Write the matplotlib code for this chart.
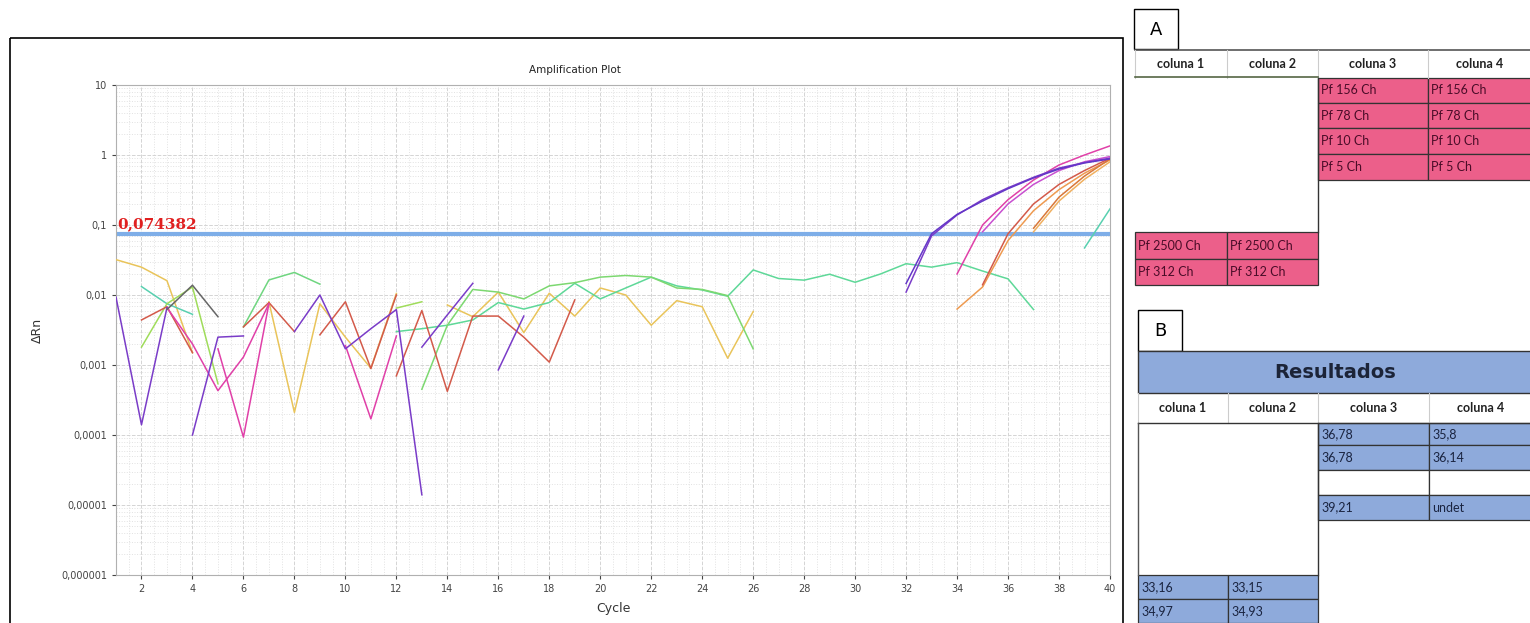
import numpy as np
import matplotlib
matplotlib.use("Agg")
import matplotlib.pyplot as plt
from matplotlib.patches import Rectangle
from matplotlib.ticker import FixedLocator, MultipleLocator, LogLocator, NullFormatter

# ---- amplification traces: (first cycle, delta-Rn values per cycle) ----
yellow_a = (1, [0.032, 0.025, 0.016, 0.0015])
yellow_b = (7, [0.008, 0.00021, 0.0075, 0.0025, 0.0009, 0.0105])
yellow_c = (14, [0.0072, 0.0049, 0.011, 0.0029, 0.0106, 0.0050, 0.0126, 0.010,
                 0.0037, 0.0083, 0.0068, 0.00125, 0.0058])
purple_1 = (1, [0.0093, 0.00014, 0.0066])
purple_2 = (4, [0.0001, 0.0025, 0.0026])
purple_3 = (8, [0.003, 0.010, 0.0017, 0.0033, 0.0062, 0.000014])
purple_4 = (13, [0.0018, 0.0052, 0.0147])
purple_5 = (16, [0.00085, 0.005])
magenta_1 = (3, [0.0066, 0.002, 0.00043, 0.0013, 0.0075])
magenta_2 = (5, [0.0017, 0.000093, 0.0075])
magenta_3 = (10, [0.0019, 0.00017, 0.0026])
red_1 = (2, [0.0044, 0.0068, 0.0015])
red_2 = (6, [0.0035, 0.0078, 0.0030])
red_3 = (9, [0.0027, 0.0080, 0.00089, 0.0100])
red_4 = (12, [0.0007, 0.006, 0.00042, 0.005, 0.005, 0.0025, 0.0011, 0.0085])
gray_1 = (3, [0.0062, 0.0138, 0.0049])
teal_1 = (2, [0.0132, 0.0075, 0.0053])
ygreen_1 = (2, [0.0018, 0.0075, 0.013, 0.00054])
green_1 = (6, [0.0035, 0.0164, 0.021, 0.0143])
ygreen_2 = (12, [0.0065, 0.008])
mint_long = (12, [0.003, 0.0033, 0.0037, 0.0044, 0.0078, 0.0063, 0.0078, 0.0147,
                  0.0088, 0.0126, 0.018, 0.0135, 0.0118, 0.0096, 0.0228, 0.0172,
                  0.0163, 0.0198, 0.0152, 0.020, 0.028, 0.025, 0.029, 0.022,
                  0.017, 0.0062])
green_2 = (13, [0.00045, 0.0037, 0.012, 0.011, 0.0088, 0.0135, 0.015, 0.018,
                0.019, 0.018, 0.0126, 0.012, 0.0098, 0.0017])
violet_a = (32, [0.011, 0.070, 0.139, 0.23, 0.34, 0.48, 0.65, 0.78, 0.90])
violet_b = (32, [0.0146, 0.075, 0.142, 0.22, 0.33, 0.47, 0.63, 0.77, 0.88])
magenta_a = (34, [0.020, 0.10, 0.23, 0.44, 0.72, 1.0, 1.35])
magenta_b = (35, [0.08, 0.20, 0.38, 0.60, 0.80, 0.95])
red_a = (35, [0.014, 0.075, 0.20, 0.38, 0.60, 0.90])
orange_a = (34, [0.0063, 0.013, 0.06, 0.16, 0.32, 0.55, 0.85])
orange_b = (37, [0.09, 0.25, 0.50, 0.88])
orange_c = (37, [0.08, 0.22, 0.45, 0.80])
green_late = (39, [0.047, 0.17])

threshold = 0.074382
y_ticks = [1e-6, 1e-5, 1e-4, 1e-3, 1e-2, 1e-1, 1, 10]
y_labels = ["0,000001", "0,00001", "0,0001", "0,001", "0,01", "0,1", "1", "10"]
x_ticks = list(range(2, 41, 2))

# ---- right-hand tables ----
col_headers = ["coluna 1", "coluna 2", "coluna 3", "coluna 4"]
samples_c34 = [("Pf 156 Ch", "Pf 156 Ch"), ("Pf 78 Ch", "Pf 78 Ch"),
               ("Pf 10 Ch", "Pf 10 Ch"), ("Pf 5 Ch", "Pf 5 Ch")]
samples_c12 = [("Pf 2500 Ch", "Pf 2500 Ch"), ("Pf 312 Ch", "Pf 312 Ch")]
results_c34 = [("36,78", "35,8"), ("36,78", "36,14"), None, ("39,21", "undet")]
results_c12 = [("33,16", "33,15"), ("34,97", "34,93")]

PURPLE = "#7a3cc8"
MAGENTA = "#e040a8"
RED = "#d35a4a"
ORANGE = "#ee9a50"
YELLOW = "#e9c45a"
MINT = "#5ed898"
YGREEN = "#9fdc5a"
TEAL = "#58d0b0"
GRAY = "#666666"
PINK = "#ec5f8a"
BLUE = "#8eaadb"

traces = [
    (yellow_a, YELLOW), (yellow_b, YELLOW), (yellow_c, YELLOW),
    (mint_long, MINT), (green_2, "#7cd870"), (teal_1, TEAL), (ygreen_1, YGREEN),
    (green_1, "#6fd680"), (ygreen_2, YGREEN),
    (red_1, RED), (red_2, RED), (red_3, RED), (red_4, RED),
    (magenta_1, MAGENTA), (magenta_2, MAGENTA), (magenta_3, MAGENTA),
    (purple_1, PURPLE), (purple_2, PURPLE), (purple_3, PURPLE),
    (purple_4, PURPLE), (purple_5, PURPLE), (gray_1, GRAY),
    (orange_a, ORANGE), (orange_c, "#f0b060"), (orange_b, "#d9783a"),
    (red_a, RED), (magenta_b, "#c84fd0"), (magenta_a, MAGENTA),
    (violet_a, PURPLE), (violet_b, "#6436c8"), (green_late, TEAL),
]

W, H = 1530, 623
fig = plt.figure(figsize=(W / 100, H / 100), dpi=100)

ax = fig.add_axes([116 / W, 1 - 575 / H, (1110 - 116) / W, (575 - 85) / H])
ax.set_yscale("log")
ax.set_xlim(1, 40)
ax.set_ylim(1e-6, 10)
ax.yaxis.set_major_locator(FixedLocator(y_ticks))
ax.set_yticklabels(y_labels)
ax.yaxis.set_minor_locator(LogLocator(base=10, subs=np.arange(2, 10)))
ax.yaxis.set_minor_formatter(NullFormatter())
ax.set_xticks(x_ticks)
ax.xaxis.set_minor_locator(MultipleLocator(0.5))
ax.grid(which="major", color="#d4d4d4", ls="--", lw=0.7)
ax.grid(which="minor", color="#e2e2e2", ls=":", lw=0.7)
ax.tick_params(labelsize=7, colors="#444444", length=3)
ax.tick_params(which="minor", length=0)
for s in ax.spines.values():
    s.set_color("#b0b0b0")

ax.axhline(threshold, color="#7eaee8", lw=3, zorder=2)
for (start, vals), col in traces:
    cyc = np.arange(start, start + len(vals))
    ax.plot(cyc, vals, color=col, lw=1.1, zorder=3)
ax.text(1.05, threshold * 1.08, "0,074382", color="#e02020", fontsize=11,
        fontweight="bold", family="DejaVu Serif", va="bottom", ha="left")
ax.set_xlabel("Cycle", fontsize=9, color="#333333", labelpad=6)
ax.set_ylabel("ΔRn", fontsize=9, color="#333333", labelpad=12)
fig.text(575 / W, 1 - 70 / H, "Amplification Plot", fontsize=7.5, ha="center",
         va="center", color="#222222")

# overlay in pixel coordinates for the frame and the tables
ov = fig.add_axes([0, 0, 1, 1], facecolor="none")
ov.set_xlim(0, W)
ov.set_ylim(H, 0)
ov.axis("off")
ov.add_patch(Rectangle((10, 38), 1113, 600, fill=False, ec="black", lw=1.2))

FONT = "Lato"
cols = [1135, 1227, 1318, 1428, 1532]


def cell(x0, y0, x1, y1, fc, txt=None, **kw):
    ov.add_patch(Rectangle((x0, y0), x1 - x0, y1 - y0, fc=fc, ec="#333333", lw=0.9))
    if txt:
        ov.text(x0 + 3, (y0 + y1) / 2, txt, va="center", ha="left", fontsize=9,
                family=FONT, **kw)


# table A
ov.add_patch(Rectangle((1134, 9), 44, 40, fill=False, ec="black", lw=1))
ov.text(1156, 30, "A", fontsize=13, ha="center", va="center", family="DejaVu Sans")
ov.plot([1135, 1530], [50, 50], color="#555555", lw=1.2)
for i, h in enumerate(col_headers):
    ov.text((cols[i] + cols[i + 1]) / 2, 64, h, ha="center", va="center",
            fontsize=9, fontweight="bold", family=FONT, color="#222222")
    ov.plot([cols[i], cols[i]], [50, 78], color="#cccccc", lw=0.8)
ov.plot([1135, 1318], [77, 77], color="#556644", lw=1.2)
row_a = [78, 103, 128, 154, 180]
for r, pair in enumerate(samples_c34):
    for c in range(2):
        cell(cols[2 + c], row_a[r], cols[3 + c], row_a[r + 1], PINK, pair[c],
             color="#4a0c28")
ov.plot([1318, 1318], [78, 232], color="#333333", lw=1)
row_a2 = [232, 259, 285]
for r, pair in enumerate(samples_c12):
    for c in range(2):
        cell(cols[c], row_a2[r], cols[c + 1], row_a2[r + 1], PINK, pair[c],
             color="#4a0c28")

# table B
ov.add_patch(Rectangle((1138, 310), 44, 41, fill=False, ec="black", lw=1))
ov.text(1160, 331, "B", fontsize=13, ha="center", va="center", family="DejaVu Sans")
colsb = [1138, 1228, 1318, 1429, 1532]
ov.add_patch(Rectangle((1138, 351), 400, 42, fc=BLUE, ec="#333333", lw=1))
ov.text(1335, 373, "Resultados", fontsize=14, fontweight="bold", ha="center",
        va="center", family="DejaVu Sans", color="#1c2438")
for i, h in enumerate(col_headers):
    ov.text((colsb[i] + colsb[i + 1]) / 2, 408, h, ha="center", va="center",
            fontsize=9, fontweight="bold", family=FONT, color="#222222")
    ov.plot([colsb[i], colsb[i]], [393, 423], color="#cccccc", lw=0.8)
ov.plot([1138, 1530], [423, 423], color="#333333", lw=1)
row_b = [423, 445, 470, 495, 520]
for r, pair in enumerate(results_c34):
    for c in range(2):
        if pair is None:
            cell(colsb[2 + c], row_b[r], colsb[3 + c], row_b[r + 1], "white")
        else:
            cell(colsb[2 + c], row_b[r], colsb[3 + c], row_b[r + 1], BLUE,
                 pair[c], color="#1a2440")
ov.plot([1318, 1318], [423, 575], color="#333333", lw=1)
ov.plot([1138, 1138], [423, 575], color="#555555", lw=1)
row_b2 = [575, 599, 623]
for r, pair in enumerate(results_c12):
    for c in range(2):
        cell(colsb[c], row_b2[r], colsb[c + 1], row_b2[r + 1], BLUE, pair[c],
             color="#1a2440")

fig.savefig("out.png", dpi=100)
